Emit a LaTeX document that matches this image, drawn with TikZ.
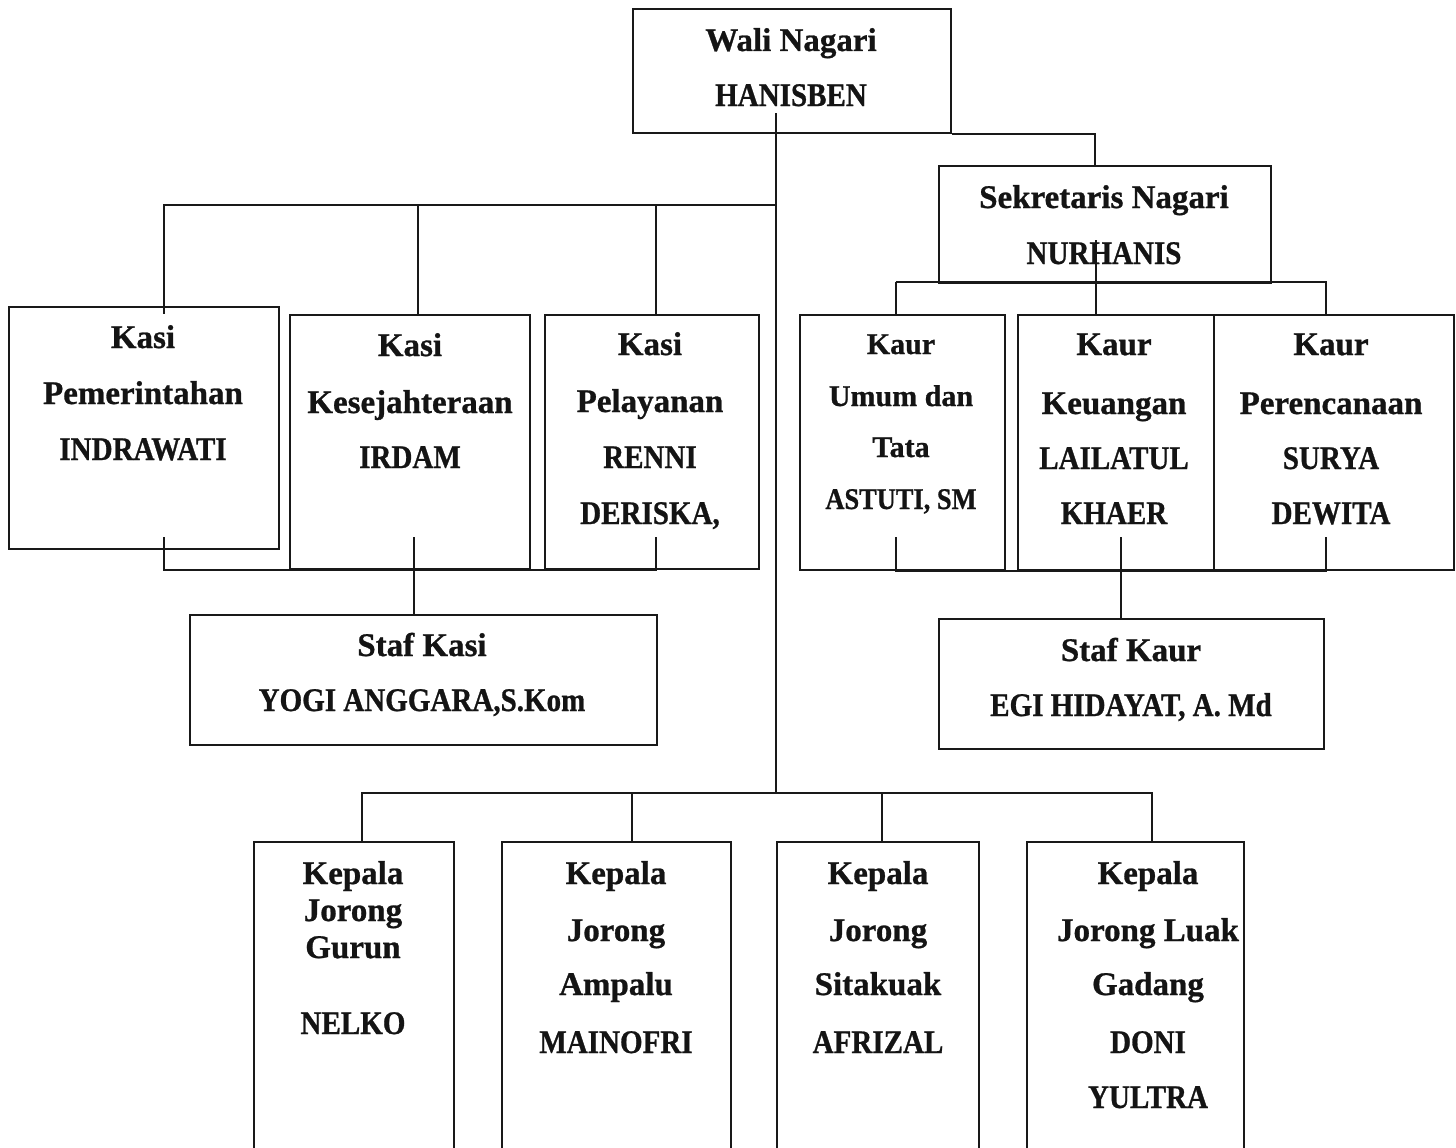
\documentclass[tikz,border=0pt]{standalone}
\usepackage{fontspec}
\setmainfont[FakeBold=0.8]{Liberation Serif}
\newfontfamily\capsfont[FakeStretch=0.88,FakeBold=0.8]{Liberation Serif}
\begin{document}
\begin{tikzpicture}[x=1pt,y=-1pt,
  box/.style={draw=black!90, line width=1.8pt, inner sep=0pt, anchor=north west},
  conn/.style={draw=black!90, line width=1.8pt},
  tx/.style={font=\fontsize{33}{40}\selectfont\bfseries, anchor=base, inner sep=0pt, text=black!92},
  cx/.style={font=\capsfont\fontsize{33}{40}\selectfont\bfseries, anchor=base, inner sep=0pt, text=black!92},
  txs/.style={font=\fontsize{30}{36}\selectfont\bfseries, anchor=base, inner sep=0pt, text=black!92},
  cxs/.style={font=\capsfont\fontsize{30}{36}\selectfont\bfseries, anchor=base, inner sep=0pt, text=black!92}]
\clip (0,0) rectangle (1456,1148);
\fill[white] (0,0) rectangle (1456,1148);

% boxes
\node[box, minimum width=318pt, minimum height=124pt] (wali) at (632,8) {};
\node[box, minimum width=332pt, minimum height=117pt] (sek) at (938,165) {};
\node[box, minimum width=270pt, minimum height=242pt] (kp) at (8,306) {};
\node[box, minimum width=240pt, minimum height=254pt] (kk) at (289,314) {};
\node[box, minimum width=214pt, minimum height=254pt] (kl) at (544,314) {};
\node[box, minimum width=205pt, minimum height=255pt] (ku) at (799,314) {};
\node[box, minimum width=196pt, minimum height=255pt] (kke) at (1017,314) {};
\node[box, minimum width=240pt, minimum height=255pt] (kpr) at (1213,314) {};
\node[box, minimum width=467pt, minimum height=130pt] (sk) at (189,614) {};
\node[box, minimum width=385pt, minimum height=130pt] (sku) at (938,618) {};
\node[box, minimum width=200pt, minimum height=340pt] (j1) at (253,841) {};
\node[box, minimum width=229pt, minimum height=340pt] (j2) at (501,841) {};
\node[box, minimum width=202pt, minimum height=340pt] (j3) at (776,841) {};
\node[box, minimum width=217pt, minimum height=340pt] (j4) at (1026,841) {};

% connector coordinates
\coordinate (spinetop) at (776,113);
\coordinate (spinebot) at (776,793);
\coordinate (sekin) at (1095,165);
\coordinate (kbus) at (776,205);
\coordinate (kpin) at (164,314);
\coordinate (kkin) at (418,314);
\coordinate (klin) at (656,314);
\coordinate (kpout) at (164,537);
\coordinate (klout) at (656,537);
\coordinate (kkout) at (413.6,537);
\coordinate (skin) at (413.6,614);
\coordinate (sekout) at (1096,240);
\coordinate (kbus2) at (1096,282);
\coordinate (kuin) at (895.6,314);
\coordinate (kkein) at (1096,314);
\coordinate (kprin) at (1326,314);
\coordinate (kuout) at (895.6,537);
\coordinate (kprout) at (1326,537);
\coordinate (kkeout) at (1121,537);
\coordinate (skuin) at (1121,618);
\coordinate (jbus) at (776,793);
\coordinate (j1in) at (362,841);
\coordinate (j2in) at (632,841);
\coordinate (j3in) at (882,841);
\coordinate (j4in) at (1152,841);

% connectors
\draw[conn] (spinetop) -- (spinebot);
\draw[conn] (wali.south east) -| (sekin);
\draw[conn] (kbus) -| (kpin);
\draw[conn] (kbus -| kkin) -- (kkin);
\draw[conn] (kbus -| klin) -- (klin);
\draw[conn] (kpout) |- (kpout |- kl.south) -| (klout);
\draw[conn] (kkout) -- (skin);
\draw[conn] (sekout) -- (kkein);
\draw[conn] (kbus2 -| kuin) -- (kuin);
\draw[conn] (kbus2 -| kuin) -- (kbus2 -| kprin) -- (kprin);
\draw[conn] (kuout) |- (kuout |- ku.south) -| (kprout);
\draw[conn] (kkeout) -- (skuin);
\draw[conn] (j1in) |- (jbus) -| (j4in);
\draw[conn] (jbus -| j2in) -- (j2in);
\draw[conn] (jbus -| j3in) -- (j3in);

% texts
\node[tx] (w1) at (791,51) {Wali Nagari};
\node[cx] (w2) at (791,106) {HANISBEN};
\node[tx] (s1) at (1104,208) {Sekretaris Nagari};
\node[cx] (s2) at (1104,264) {NURHANIS};

\node[tx] (kp1) at (143,348) {Kasi};
\node[tx] (kp2) at (143,404) {Pemerintahan};
\node[cx] (kp3) at (143,460) {INDRAWATI};

\node[tx] (kk1) at (410,356) {Kasi};
\node[tx] (kk2) at (410,413) {Kesejahteraan};
\node[cx] (kk3) at (410,468) {IRDAM};

\node[tx] (kl1) at (650,355) {Kasi};
\node[tx] (kl2) at (650,412) {Pelayanan};
\node[cx] (kl3) at (650,468) {RENNI};
\node[cx] (kl4) at (650,524) {DERISKA,};

\node[txs] (ku1) at (901,354) {Kaur};
\node[txs] (ku2) at (901,406) {Umum dan};
\node[txs] (ku3) at (901,457) {Tata};
\node[cxs] (ku4) at (901,509) {ASTUTI, SM};

\node[tx] (ke1) at (1114,355) {Kaur};
\node[tx] (ke2) at (1114,414) {Keuangan};
\node[cx] (ke3) at (1114,469) {LAILATUL};
\node[cx] (ke4) at (1114,524) {KHAER};

\node[tx] (pr1) at (1331,355) {Kaur};
\node[tx] (pr2) at (1331,414) {Perencanaan};
\node[cx] (pr3) at (1331,469) {SURYA};
\node[cx] (pr4) at (1331,524) {DEWITA};

\node[tx] (sk1) at (422,656) {Staf Kasi};
\node[cx] (sk2) at (422,711) {YOGI ANGGARA,S.Kom};
\node[tx] (su1) at (1131,661) {Staf Kaur};
\node[cx] (su2) at (1131,716) {EGI HIDAYAT, A. Md};

\node[tx] (a1) at (353,884) {Kepala};
\node[tx] (a2) at (353,921) {Jorong};
\node[tx] (a3) at (353,958) {Gurun};
\node[cx] (a4) at (353,1034) {NELKO};

\node[tx] (b1) at (616,884) {Kepala};
\node[tx] (b2) at (616,941) {Jorong};
\node[tx] (b3) at (616,995) {Ampalu};
\node[cx] (b4) at (616,1053) {MAINOFRI};

\node[tx] (c1) at (878,884) {Kepala};
\node[tx] (c2) at (878,941) {Jorong};
\node[tx] (c3) at (878,995) {Sitakuak};
\node[cx] (c4) at (878,1053) {AFRIZAL};

\node[tx] (d1) at (1148,884) {Kepala};
\node[tx] (d2) at (1148,941) {Jorong Luak};
\node[tx] (d3) at (1148,995) {Gadang};
\node[cx] (d4) at (1148,1053) {DONI};
\node[cx] (d5) at (1148,1108) {YULTRA};
\end{tikzpicture}
\end{document}
